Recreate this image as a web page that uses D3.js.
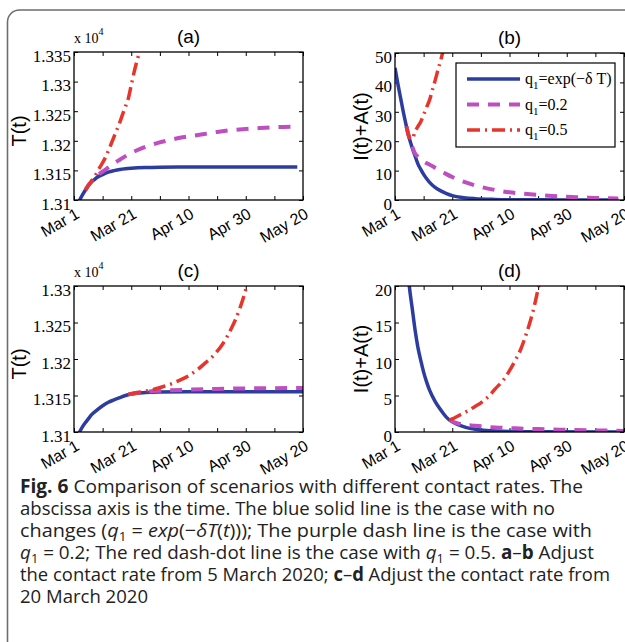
<!DOCTYPE html>
<html>
<head>
<meta charset="utf-8">
<script src="https://cdn.jsdelivr.net/npm/d3@7"></script>
<style>
  body { margin: 0; background: #fff; }
  svg { display: block; }
</style>
</head>
<body>
<svg id="chart" width="625" height="642"></svg>
<script>
// days after Mar 1, axis runs 0..80 (May 20)
const xTicks = [0, 10, 20, 30, 40, 50, 60, 70, 80];
const xLabels = { 0: "Mar 1", 20: "Mar 21", 40: "Apr 10", 60: "Apr 30", 80: "May 20" };

// (a) T(t) x10^4, contact rate changed from 5 March
const aTicks = [1.31, 1.315, 1.32, 1.325, 1.33, 1.335];
const aBlueT = [1, 2, 3, 4, 5, 6, 7, 8, 10, 12, 14, 16, 18, 20, 25, 30, 40, 78];
const aBlueV = [1.30876, 1.3100, 1.3109, 1.3117, 1.3124, 1.3130, 1.3134, 1.3138, 1.3143, 1.3147, 1.31496, 1.31516, 1.31528, 1.31536, 1.31548, 1.31553, 1.31556, 1.31556];
const aPurpT = [4, 5, 6, 7, 8, 10, 12, 14, 16, 19, 22, 25, 29, 34, 38, 45, 50, 55, 60, 65, 70, 78];
const aPurpV = [1.3117, 1.3125, 1.3131, 1.3137, 1.3141, 1.3148, 1.3155, 1.3162, 1.3168, 1.3177, 1.3184, 1.3190, 1.3196, 1.3202, 1.3206, 1.3211, 1.3215, 1.3218, 1.3220, 1.32215, 1.3223, 1.3224];
const aRedT = [4, 5, 6, 7, 8, 9, 10, 11, 12, 13, 14, 15, 16, 17, 18, 19, 20, 21, 22, 23];
const aRedV = [1.3117, 1.3124, 1.3131, 1.3138, 1.3146, 1.3155, 1.3163, 1.3172, 1.3183, 1.3195, 1.3207, 1.3219, 1.3231, 1.3245, 1.3258, 1.3272, 1.3294, 1.3316, 1.3335, 1.3352];

// (b) I(t)+A(t), from 5 March
const bTicks = [0, 10, 20, 30, 40, 50];
const bBlueT = [0, 1, 2, 3, 4, 5, 6, 7, 8, 9, 10, 12, 14, 16, 18, 20, 24, 28, 35, 45, 60, 78];
const bBlueV = [45, 39.5, 34.5, 29.5, 25, 21, 17.8, 15, 12.3, 10.4, 8.7, 6.1, 4.3, 3.1, 2.2, 1.5, 0.8, 0.45, 0.2, 0.08, 0.03, 0.01];
const bPurpT = [4, 5, 6, 7, 8, 9, 10, 12, 14, 16, 18, 20, 25, 29, 35, 40, 45, 50, 55, 60, 65, 70, 78];
const bPurpV = [25, 21, 18.2, 15.8, 14.7, 13.8, 13.1, 12.1, 11.0, 9.9, 8.8, 7.8, 5.9, 4.7, 3.4, 2.6, 2.1, 1.7, 1.35, 1.1, 0.9, 0.7, 0.5];
const bRedT = [4, 4.5, 5, 5.5, 6, 7, 8, 9, 10, 11, 12, 13, 14, 15, 16, 17];
const bRedV = [25, 22.8, 21.4, 20.8, 20.7, 23.3, 25.0, 26.6, 29.0, 31.5, 33.8, 37.2, 40.6, 44.2, 47.6, 51.5];

// (c) T(t) x10^4, from 20 March
const cTicks = [1.31, 1.315, 1.32, 1.325, 1.33];
const cBlueT = [1, 2, 3, 4, 5, 6, 8, 10, 12, 14, 16, 18, 20, 25, 30, 40, 80];
const cBlueV = [1.3092, 1.31003, 1.31073, 1.3113, 1.3118, 1.3123, 1.3130, 1.3136, 1.31408, 1.3144, 1.3147, 1.3150, 1.3152, 1.31541, 1.31548, 1.31552, 1.31553];
const cPurpT = [19, 25, 30, 40, 50, 60, 70, 80];
const cPurpV = [1.31515, 1.3155, 1.31565, 1.3158, 1.3159, 1.31597, 1.3160, 1.31603];
const cRedT = [19, 22, 25, 28, 31, 34, 37, 40, 43, 46, 49, 52, 55, 58, 60, 61];
const cRedV = [1.31515, 1.3154, 1.3156, 1.31585, 1.3162, 1.3166, 1.3171, 1.3177, 1.3185, 1.3195, 1.3206, 1.3221, 1.3242, 1.3270, 1.3295, 1.3310];

// (d) I(t)+A(t), from 20 March
const dTicks = [0, 5, 10, 15, 20];
const dBlueT = [0, 2, 4, 5, 6, 7, 8, 9, 10, 11, 12, 14, 16, 18, 19, 20, 22, 25, 28, 32, 40, 50, 80];
const dBlueV = [45, 34.5, 25, 20, 17, 14, 11.6, 9.8, 8.2, 6.9, 5.8, 4.2, 3.0, 2.0, 1.65, 1.4, 1.0, 0.6, 0.38, 0.2, 0.07, 0.03, 0.01];
const dPurpT = [19, 21, 24, 28, 35, 42, 50, 60, 70, 80];
const dPurpV = [1.65, 1.3, 1.0, 0.86, 0.62, 0.5, 0.4, 0.3, 0.22, 0.15];
const dRedT = [19, 20, 22, 25, 28, 30, 33, 35, 38, 40, 42, 44, 46, 48, 50, 51];
const dRedV = [1.65, 1.8, 2.2, 2.8, 3.5, 4.0, 5.0, 5.9, 7.2, 8.4, 9.8, 11.4, 13.6, 16.2, 19.6, 21.5];

const styles = {
    blue: { color: "#2c3d9f", width: 3.5, dash: null },
    purple: { color: "#bf4fc0", width: 4, dash: "12,9" },
    red: { color: "#e8352b", width: 3.5, dash: "13,5,2,5" },
};

const panels = [
    { id: "a", x0: 74, x1: 303, y0: 52, y1: 200, dom: [1.31, 1.335], ticks: aTicks, label: "T(t)", exp: true,
      series: [["blue", aBlueT, aBlueV], ["purple", aPurpT, aPurpV], ["red", aRedT, aRedV]] },
    { id: "b", x0: 395, x1: 624, y0: 53, y1: 200, dom: [0, 50], ticks: bTicks, label: "I(t)+A(t)", legend: true,
      series: [["blue", bBlueT, bBlueV], ["purple", bPurpT, bPurpV], ["red", bRedT, bRedV]] },
    { id: "c", x0: 74, x1: 303, y0: 286, y1: 432, dom: [1.31, 1.33], ticks: cTicks, label: "T(t)", exp: true,
      series: [["blue", cBlueT, cBlueV], ["purple", cPurpT, cPurpV], ["red", cRedT, cRedV]] },
    { id: "d", x0: 395, x1: 624, y0: 286, y1: 432, dom: [0, 20], ticks: dTicks, label: "I(t)+A(t)",
      series: [["blue", dBlueT, dBlueV], ["purple", dPurpT, dPurpV], ["red", dRedT, dRedV]] },
];

const svg = d3.select("#chart");
const serif = "'Liberation Serif', 'Times New Roman', serif";
const sans = "'Liberation Sans', Arial, sans-serif";

// rounded frame of the figure box
svg.append("path")
    .attr("d", "M7.5,642 V22 A12,12 0 0 1 19.5,10 H625")
    .attr("fill", "none")
    .attr("stroke", "#6e6e6e")
    .attr("stroke-width", 1.6);

panels.forEach(drawPanel);
drawCaption();

function drawPanel(p) {
    const x = d3.scaleLinear().domain([0, 80]).range([p.x0, p.x1]);
    const y = d3.scaleLinear().domain(p.dom).range([p.y1, p.y0]);
    const g = svg.append("g");

    g.append("clipPath").attr("id", "clip-" + p.id)
        .append("rect")
        .attr("x", p.x0).attr("y", p.y0)
        .attr("width", p.x1 - p.x0).attr("height", p.y1 - p.y0);

    // axes with inward ticks on all four sides
    const fmt = (v) => String(+v.toFixed(3));
    const left = g.append("g").attr("transform", `translate(${p.x0},0)`)
        .call(d3.axisLeft(y).tickValues(p.ticks).tickFormat(fmt).tickSize(-4).tickSizeOuter(0).tickPadding(3))
        .attr("font-family", serif)
        .attr("font-size", 17);
    left.selectAll("text").attr("dy", "0.55em");
    g.append("g").attr("transform", `translate(${p.x1},0)`)
        .call(d3.axisRight(y).tickValues(p.ticks).tickFormat("").tickSize(-4).tickSizeOuter(0));
    g.append("g").attr("transform", `translate(0,${p.y0})`)
        .call(d3.axisTop(x).tickValues(xTicks).tickFormat("").tickSize(-4).tickSizeOuter(0));
    const bottom = g.append("g").attr("transform", `translate(0,${p.y1})`)
        .call(d3.axisBottom(x).tickValues(xTicks).tickFormat((d) => xLabels[d] || "").tickSize(-4).tickSizeOuter(0))
        .attr("font-family", sans)
        .attr("font-size", 16);
    bottom.selectAll("text")
        .attr("x", 0).attr("y", 0).attr("dy", 0)
        .attr("text-anchor", "end")
        .attr("transform", "translate(6,17) rotate(-30)");
    g.selectAll(".domain").remove();
    g.selectAll(".tick line").attr("stroke", "#000").attr("stroke-width", 1);

    // series
    const line = d3.line()
        .x((d) => x(d[0]))
        .y((d) => y(d[1]))
        .curve(d3.curveMonotoneX);
    const plot = g.append("g").attr("clip-path", `url(#clip-${p.id})`);
    p.series.forEach(([key, ts, vs]) => {
        const s = styles[key];
        plot.append("path")
            .datum(ts.map((t, i) => [t, vs[i]]))
            .attr("fill", "none")
            .attr("stroke", s.color)
            .attr("stroke-width", s.width)
            .attr("stroke-dasharray", s.dash)
            .attr("d", line);
    });

    // box
    g.append("rect")
        .attr("x", p.x0).attr("y", p.y0)
        .attr("width", p.x1 - p.x0).attr("height", p.y1 - p.y0)
        .attr("fill", "none").attr("stroke", "#000").attr("stroke-width", 1.3);

    // title
    g.append("text")
        .attr("x", (p.x0 + p.x1) / 2).attr("y", p.y0 - 9)
        .attr("text-anchor", "middle")
        .style("font-family", sans).style("font-size", "19px")
        .text(`(${p.id})`);

    // y label (baseline position)
    const bx = p.exp ? 26 : p.x0 - 27;
    g.append("text")
        .attr("transform", `translate(${bx},${(p.y0 + p.y1) / 2 + (p.exp ? 5 : 0)}) rotate(-90)`)
        .attr("text-anchor", "middle")
        .style("font-family", sans).style("font-size", "20px")
        .text(p.label);

    if (p.exp) {
        const t = g.append("text")
            .attr("x", p.x0).attr("y", p.y0 - 9)
            .style("font-family", serif).style("font-size", "14px")
            .text("x 10");
        t.append("tspan").attr("dy", -8).style("font-size", "10px").text("4");
    }

    if (p.legend) drawLegend(g);
}

function drawLegend(g) {
    const entries = [["blue", "=exp(\u2212\u03b4 T)"], ["purple", "=0.2"], ["red", "=0.5"]];
    g.append("rect")
        .attr("x", 456).attr("y", 63).attr("width", 159).attr("height", 84)
        .attr("fill", "#fff").attr("stroke", "#000").attr("stroke-width", 1.2);
    entries.forEach(([key, txt], i) => {
        const s = styles[key];
        const yy = 79 + i * 25.5;
        g.append("line")
            .attr("x1", 467).attr("x2", 520).attr("y1", yy).attr("y2", yy)
            .attr("stroke", s.color).attr("stroke-width", s.width)
            .attr("stroke-dasharray", s.dash);
        const t = g.append("text")
            .attr("x", 525).attr("y", yy + 5)
            .style("font-family", serif).style("font-size", "16px")
            .text("q");
        t.append("tspan").attr("dy", 5).style("font-size", "11px").text("1");
        t.append("tspan").attr("dy", -5).text(txt);
    });
}

function drawCaption() {
    // each line: segments [text, kind], and target right end
    const lines = [
        [[["Fig. 6", "b"], [" Comparison of scenarios with different contact rates. The", ""]], 583],
        [[["abscissa axis is the time. The blue solid line is the case with no", ""]], 555],
        [[["changes (", ""], ["q", "i"], ["1", "sub"], [" = ", ""], ["exp", "i"], ["(\u2212", ""], ["\u03b4T", "i"],
          ["(", ""], ["t", "i"], [")));", ""], [" The purple dash line is the case with", ""]], 592],
        [[["q", "i"], ["1", "sub"], [" = 0.2; The red dash-dot line is the case with ", ""], ["q", "i"], ["1", "sub"],
          [" = 0.5. ", ""], ["a", "b"], ["\u2013", ""], ["b", "b"], [" Adjust", ""]], 594],
        [[["the contact rate from 5 March 2020; ", ""], ["c", "b"], ["\u2013", ""], ["d", "b"], [" Adjust the contact rate from", ""]], 610],
        [[["20 March 2020", ""]], 148],
    ];
    const x0 = 20;
    lines.forEach(([segs, right], i) => {
        const t = svg.append("text")
            .attr("x", x0).attr("y", 493 + i * 22)
            .style("font-family", "'Open Sans', 'Noto Sans', sans-serif")
            .style("font-size", "19px")
            .attr("fill", "#222");
        let shifted = false;
        segs.forEach(([s, kind]) => {
            const ts = t.append("tspan").text(s);
            if (kind === "b") ts.style("font-weight", "bold");
            if (kind === "i") ts.style("font-style", "italic");
            if (kind === "sub") {
                ts.attr("dy", 4).style("font-size", "13px");
                shifted = true;
            } else if (shifted) {
                ts.attr("dy", -4);
                shifted = false;
            }
        });
        t.attr("textLength", right - x0).attr("lengthAdjust", "spacingAndGlyphs");
    });
}
</script>
</body>
</html>
